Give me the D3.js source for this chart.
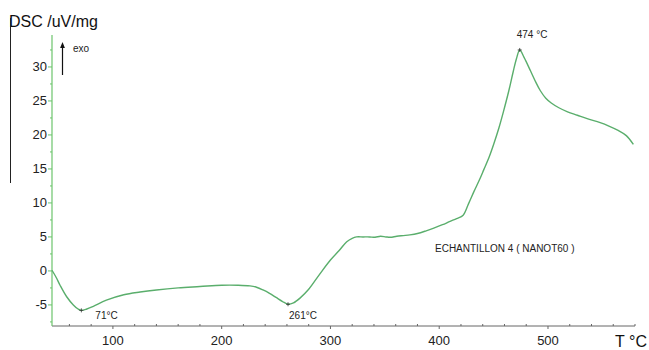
<!DOCTYPE html>
<html>
<head>
<meta charset="utf-8">
<script src="https://cdn.jsdelivr.net/npm/d3@7"></script>
<style>
  html, body { margin: 0; padding: 0; background: #fff; }
  svg { display: block; font-family: "Liberation Sans", Arial, sans-serif; }
</style>
</head>
<body>
<svg id="chart" width="649" height="350"></svg>
<script>
// DSC trace: temperature (°C) and heat flow (uV/mg)
const temperature = [44, 48, 51.4, 57.5, 63.6, 68, 71, 76, 82, 94, 110, 125, 140, 160, 180, 200, 215, 226,
  232, 238, 244, 250, 256, 261, 266, 272, 280, 290, 300, 308, 315, 320, 324, 330, 336, 341, 346, 351, 355,
  361, 367, 373, 380, 388, 395, 403, 410, 416, 422, 427, 432, 437, 441, 446, 450, 455, 459, 464, 468, 471,
  474, 478, 484, 489, 493, 498, 503, 510, 518, 527, 536, 548, 556, 564, 572, 578.5];
const dsc = [0.1, -1.0, -2.1, -3.8, -5.0, -5.6, -5.8, -5.6, -5.2, -4.3, -3.5, -3.1, -2.8, -2.5, -2.3, -2.1, -2.1, -2.2,
  -2.4, -2.8, -3.3, -3.9, -4.5, -4.9, -4.7, -4.0, -2.7, -0.5, 1.6, 3.0, 4.3, 4.8, 5.0, 5.0, 5.0, 4.95, 5.1, 5.0, 4.95,
  5.1, 5.2, 5.3, 5.5, 5.9, 6.3, 6.8, 7.3, 7.7, 8.2, 9.9, 11.7, 13.4, 14.9, 16.8, 18.6, 21.1, 23.4, 26.5, 29.3, 31.2,
  32.5, 31.4, 29.4, 27.7, 26.5, 25.4, 24.7, 24.0, 23.4, 22.9, 22.4, 21.8, 21.3, 20.7, 19.9, 18.6];

const xTicks = [100, 200, 300, 400, 500];
const yTicks = [-5, 0, 5, 10, 15, 20, 25, 30];

// Labelled peaks
const peakT = [71, 261, 474];
const peakV = [-5.8, -4.9, 32.5];
const peakLabels = ["71°C", "261°C", "474 °C"];

const sampleName = "ECHANTILLON 4 ( NANOT60 )";

const svg = d3.select("#chart");
const plotLeft = 52, plotRight = 635, plotTop = 35, plotBottom = 326;

const x = d3.scaleLinear().domain([44, 580]).range([plotLeft, plotRight]);
const y = d3.scaleLinear().domain([-8.1, 34.7]).range([plotBottom, plotTop]);

// x axis (grey) with minor ticks every 20 °C
const xAxis = svg.append("g").attr("transform", `translate(0,${plotBottom})`);
xAxis.append("line").attr("x1", plotLeft).attr("x2", plotRight).attr("stroke", "#666").attr("stroke-width", 1);
xAxis.selectAll("line.minor").data(d3.range(60, 581, 20)).join("line")
  .attr("class", "minor")
  .attr("x1", d => x(d)).attr("x2", d => x(d))
  .attr("y1", 0).attr("y2", d => xTicks.includes(d) ? 3 : -2)
  .attr("stroke", "#666");
xAxis.selectAll("text").data(xTicks).join("text")
  .attr("x", d => x(d)).attr("y", 19)
  .attr("text-anchor", "middle").attr("font-size", 13).attr("fill", "#222")
  .text(d => d);

// y axis (green) with minor ticks every 2.5
const yAxis = svg.append("g");
yAxis.append("line").attr("x1", plotLeft).attr("x2", plotLeft).attr("y1", plotTop).attr("y2", plotBottom)
  .attr("stroke", "#6cc46c").attr("stroke-width", 1.2);
yAxis.selectAll("line.minor").data(d3.range(-7.5, 34, 2.5)).join("line")
  .attr("class", "minor")
  .attr("x1", plotLeft).attr("x2", d => plotLeft - (yTicks.includes(d) ? 4 : 2))
  .attr("y1", d => y(d)).attr("y2", d => y(d))
  .attr("stroke", "#6cc46c");
yAxis.selectAll("text").data(yTicks).join("text")
  .attr("x", plotLeft - 5).attr("y", d => y(d) + 4.5)
  .attr("text-anchor", "end").attr("font-size", 13).attr("fill", "#222")
  .text(d => d);

// Axis titles
svg.append("text").attr("x", 9).attr("y", 27).attr("font-size", 16).attr("fill", "#111").text("DSC /uV/mg");
svg.append("line").attr("x1", 10.5).attr("x2", 10.5).attr("y1", 18).attr("y2", 183).attr("stroke", "#222");
svg.append("text").attr("x", 647).attr("y", 347).attr("text-anchor", "end")
  .attr("font-size", 16).attr("fill", "#111").text("T °C");

// exo arrow
svg.append("defs").append("marker").attr("id", "arrow")
  .attr("viewBox", "0 0 10 10").attr("refX", 5).attr("refY", 5)
  .attr("markerWidth", 5).attr("markerHeight", 6).attr("orient", "auto")
  .append("path").attr("d", "M0,1 L10,5 L0,9 Z").attr("fill", "#111");
svg.append("line").attr("x1", 62.5).attr("x2", 62.5).attr("y1", 75).attr("y2", 45)
  .attr("stroke", "#111").attr("stroke-width", 1.2).attr("marker-end", "url(#arrow)");
svg.append("text").attr("x", 73).attr("y", 52).attr("font-size", 10).attr("fill", "#222").text("exo");

// DSC curve
const pts = temperature.map((t, i) => [t, dsc[i]]);
svg.append("path").datum(pts)
  .attr("fill", "none").attr("stroke", "#5aae6c").attr("stroke-width", 1.4)
  .attr("d", d3.line().x(d => x(d[0])).y(d => y(d[1])).curve(d3.curveCatmullRom.alpha(0.5)));

// Peak markers and labels
const labelOffsets = [[14, 9], [1, 14.5], [-3, -12]];
peakT.forEach((t, i) => {
  const px = x(t), py = y(peakV[i]);
  svg.append("path").attr("d", `M${px - 2},${py} H${px + 2} M${px},${py - 2} V${py + 2}`)
    .attr("stroke", "#333").attr("stroke-width", 0.8);
  svg.append("text").attr("x", px + labelOffsets[i][0]).attr("y", py + labelOffsets[i][1])
    .attr("font-size", 10).attr("fill", "#222").text(peakLabels[i]);
});

svg.append("text").attr("x", 435).attr("y", 252).attr("font-size", 10).attr("fill", "#222").text(sampleName);
</script>
</body>
</html>
